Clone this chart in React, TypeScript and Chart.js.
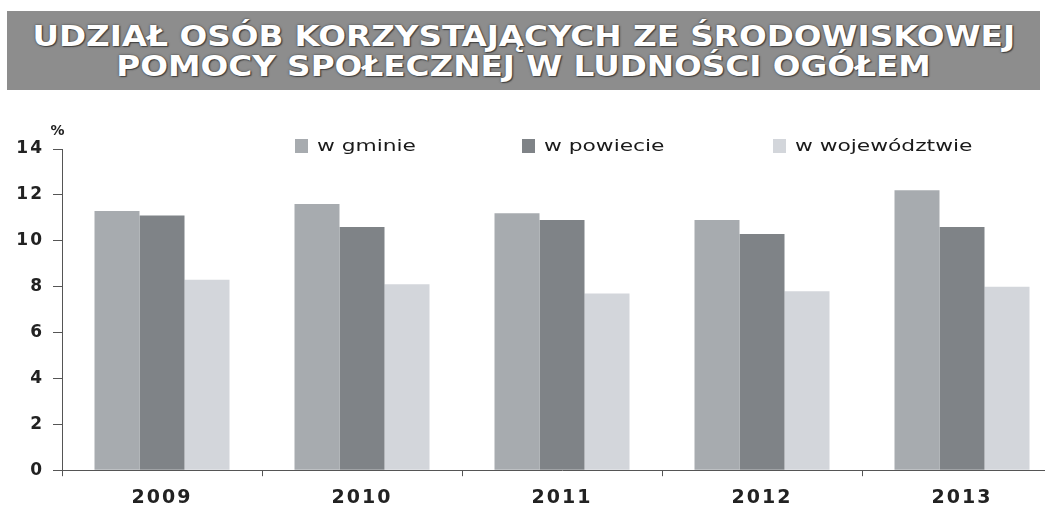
import React, { useEffect, useRef } from "react";
import { Chart, registerables } from "chart.js";

Chart.register(...registerables);

// ---- data ----
const categories = ["2009", "2010", "2011", "2012", "2013"];
const seriesNames = ["w gminie", "w powiecie", "w województwie"];
const gminie = [11.3, 11.6, 11.2, 10.9, 12.2];
const powiecie = [11.1, 10.6, 10.9, 10.3, 10.6];
const wojewodztwo = [8.3, 8.1, 7.7, 7.8, 8.0];
const yTicks = [0, 2, 4, 6, 8, 10, 12, 14];
const titleLines = [
  "UDZIAŁ OSÓB KORZYSTAJĄCYCH ZE ŚRODOWISKOWEJ",
  "POMOCY SPOŁECZNEJ W LUDNOŚCI OGÓŁEM",
];
const unitLabel = "%";

const seriesColors = ["#a7abaf", "#7f8387", "#d3d6db"];
const LETTER_SPACING = "2px";
const FONT = '"DejaVu Sans", Verdana, sans-serif';
const LEGEND_X = [295, 522, 773];
const LEGEND_Y = 46;

const spacingPlugin = {
  id: "letterSpacingPlugin",
  beforeLayout(chart: any) {
    chart.ctx.letterSpacing = LETTER_SPACING;
  },
  beforeDraw(chart: any) {
    chart.ctx.letterSpacing = LETTER_SPACING;
  },
};

const legendPlugin = {
  id: "customLegend",
  afterDraw(chart: any) {
    const { ctx } = chart;
    chart.data.datasets.forEach((ds: any, i: number) => {
      const x = LEGEND_X[i];
      ctx.save();
      ctx.fillStyle = ds.backgroundColor;
      ctx.fillRect(x, LEGEND_Y - 7, 13, 14);
      ctx.letterSpacing = "0px";
      ctx.font = `16px ${FONT}`;
      ctx.fillStyle = "#1a1a1a";
      ctx.textBaseline = "middle";
      ctx.textAlign = "left";
      ctx.translate(x + 22, LEGEND_Y + 1);
      ctx.scale(1.36, 1);
      ctx.fillText(ds.label, 0, 0);
      ctx.restore();
    });
  },
};

const unitPlugin = {
  id: "unitLabel",
  afterDraw(chart: any) {
    const { ctx, chartArea } = chart;
    ctx.save();
    ctx.letterSpacing = "1px";
    ctx.font = `bold 14px ${FONT}`;
    ctx.fillStyle = "#222";
    ctx.textAlign = "center";
    ctx.textBaseline = "middle";
    ctx.fillText(unitLabel, chartArea.left - 4, chartArea.top - 18);
    ctx.restore();
  },
};

export default function App() {
  const canvasRef = useRef<HTMLCanvasElement | null>(null);
  const lineRefs = useRef<(HTMLDivElement | null)[]>([]);

  useEffect(() => {
    const first = lineRefs.current[0];
    if (first) {
      const w = first.offsetWidth;
      const s = 982 / w;
      lineRefs.current.forEach((el) => {
        if (el) el.style.transform = `scaleX(${s})`;
      });
    }
  }, []);

  useEffect(() => {
    if (!canvasRef.current) return;
    const chart = new Chart(canvasRef.current, {
      type: "bar",
      data: {
        labels: categories,
        datasets: [
          { label: seriesNames[0], data: gminie, backgroundColor: seriesColors[0] },
          { label: seriesNames[1], data: powiecie, backgroundColor: seriesColors[1] },
          { label: seriesNames[2], data: wojewodztwo, backgroundColor: seriesColors[2] },
        ],
      },
      options: {
        responsive: false,
        animation: false,
        layout: { padding: { left: 0, right: 0, top: 49, bottom: 3 } },
        datasets: {
          bar: { categoryPercentage: 0.675, barPercentage: 1.0 },
        },
        plugins: {
          legend: { display: false },
          tooltip: { enabled: false },
          title: { display: false },
        },
        scales: {
          x: {
            grid: {
              display: true,
              drawOnChartArea: false,
              drawTicks: true,
              tickLength: 6,
              color: "#555",
            },
            border: { display: true, color: "#555", width: 1 },
            ticks: {
              color: "#222",
              padding: 10,
              font: { family: FONT, size: 19, weight: "bold" },
            },
          },
          y: {
            min: yTicks[0],
            max: yTicks[yTicks.length - 1],
            afterBuildTicks: (scale: any) => {
              scale.ticks = yTicks.map((v) => ({ value: v }));
            },
            afterFit: (scale: any) => {
              scale.width = 62;
            },
            grid: {
              display: true,
              drawOnChartArea: false,
              drawTicks: true,
              tickLength: 9,
              color: "#555",
            },
            border: { display: true, color: "#555", width: 1 },
            ticks: {
              color: "#222",
              padding: 9,
              font: { family: FONT, size: 17, weight: "bold" },
            },
          },
        },
      },
      plugins: [spacingPlugin, legendPlugin, unitPlugin],
    } as any);
    return () => chart.destroy();
  }, []);

  return (
    <div
      style={{
        position: "absolute",
        left: 0,
        top: 0,
        width: 1045,
        height: 512,
        overflow: "hidden",
        background: "#fff",
      }}
    >
      <div
        style={{
          position: "absolute",
          left: 7,
          top: 11,
          width: 1033,
          height: 79,
          background: "#8d8d8d",
          display: "flex",
          flexDirection: "column",
          alignItems: "center",
          justifyContent: "center",
          overflow: "hidden",
        }}
      >
        {titleLines.map((line, i) => (
          <div
            key={i}
            ref={(el) => {
              lineRefs.current[i] = el;
            }}
            style={{
              font: 'bold 29px "Liberation Sans Narrow", "DejaVu Sans Condensed", "Liberation Sans", sans-serif',
              color: "#ffffff",
              lineHeight: "30px",
              whiteSpace: "nowrap",
              display: "inline-block",
              transformOrigin: "center",
              textShadow: "0 0 2px #3a3a3a, 1px 1px 1px #444",
            }}
          >
            {line}
          </div>
        ))}
      </div>
      <canvas
        ref={canvasRef}
        width={1062}
        height={422}
        style={{ position: "absolute", left: 0, top: 100, width: 1062, height: 422 }}
      />
    </div>
  );
}
